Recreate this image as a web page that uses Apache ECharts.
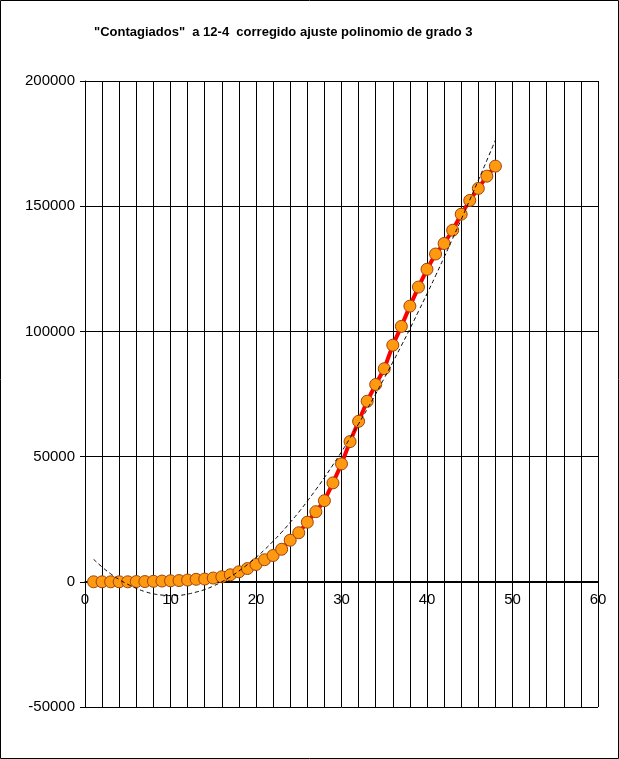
<!DOCTYPE html>
<html>
<head>
<meta charset="utf-8">
<script src="https://cdn.jsdelivr.net/npm/echarts@6/dist/echarts.min.js"></script>
<style>
    html, body { margin: 0; padding: 0; background: #fff; }
    #chart { width: 619px; height: 759px; }
</style>
</head>
<body>
<div id="chart"></div>
<script>
// dias desde el inicio (eje x)
const dias = [1,2,3,4,5,6,7,8,9,10,11,12,13,14,15,16,17,18,19,20,21,22,23,24,
    25,26,27,28,29,30,31,32,33,34,35,36,37,38,39,40,41,42,43,44,45,46,47,48];
// contagiados acumulados
const contagiados = [0,0,0,0,0,100,100,200,300,400,500,700,1000,1100,1500,2000,2800,4000,5300,6900,
    8800,10500,13000,16600,19600,23800,28000,32400,39500,47100,56000,64100,72100,78800,85100,94500,
    102000,110100,117700,124800,130900,135100,140400,146800,152300,157100,162000,166000];
// ajuste polinomio grado 3 (linea de trazos)
const ajuste = [9000,5900,3200,900,-1000,-2600,-3900,-4800,-5300,-5500,-5400,-4900,-4100,-3100,-1700,0,
    2000,4300,6900,9700,12800,16200,19800,23700,27800,32200,36800,41600,46700,51900,57400,63100,
    68900,75000,81300,87700,94300,101000,108000,115000,122200,129600,137100,144700,152500,160300,168300,176400];
const titulo = '"Contagiados"  a 12-4  corregido ajuste polinomio de grado 3';

const chart = echarts.init(document.getElementById('chart'));
const pares = (xs, ys) => xs.map((x, i) => [x, ys[i]]);

const options = {
    animation: false,
    title: {
        text: titulo,
        left: 89,
        top: 21,
        textStyle: {
            fontFamily: 'Liberation Sans, Arial, sans-serif',
            fontSize: 13,
            fontWeight: 'bold',
            color: '#000'
        }
    },
    grid: {
        left: 85,
        right: 21,
        top: 81,
        bottom: 52,
        containLabel: false
    },
    xAxis: {
        type: 'value',
        min: 0,
        max: 60,
        interval: 10,
        // el eje x cruza en y = 0 (126 px por encima del borde inferior)
        offset: -126,
        axisLine: { onZero: false, lineStyle: { color: '#000', width: 1 } },
        axisTick: { show: false },
        axisLabel: {
            margin: 11,
            color: '#000',
            fontFamily: 'Liberation Sans, Arial, sans-serif',
            fontSize: 15
        },
        splitLine: { show: true, lineStyle: { color: '#000', width: 1 } },
        minorTick: { show: false, splitNumber: 5 },
        minorSplitLine: { show: true, lineStyle: { color: '#000', width: 1 } }
    },
    yAxis: {
        type: 'value',
        min: -50000,
        max: 200000,
        interval: 50000,
        axisLine: { show: true, onZero: false, lineStyle: { color: '#000', width: 1 } },
        axisTick: { show: true, length: 5, lineStyle: { color: '#000' } },
        axisLabel: {
            margin: 10,
            color: '#000',
            fontFamily: 'Liberation Sans, Arial, sans-serif',
            fontSize: 15,
            formatter: function (val) {
                return String(val);
            }
        },
        splitLine: { show: true, lineStyle: { color: '#000', width: 1 } }
    },
    graphic: [{
        type: 'rect',
        shape: { x: 0.5, y: 0.5, width: 618, height: 758 },
        style: { fill: 'none', stroke: '#000', lineWidth: 1 },
        z: 100
    }],
    series: [{
        name: 'Contagiados',
        type: 'line',
        data: pares(dias, contagiados),
        symbol: 'circle',
        symbolSize: 12,
        lineStyle: { color: '#ff0000', width: 4 },
        itemStyle: { color: '#ff9910', borderColor: '#a0410a', borderWidth: 1 },
        z: 3
    }, {
        name: 'Ajuste',
        type: 'line',
        data: pares(dias, ajuste),
        smooth: true,
        showSymbol: false,
        lineStyle: { color: '#000', width: 1, type: [4, 3] },
        z: 4
    }]
};
chart.setOption(options);
</script>
</body>
</html>
